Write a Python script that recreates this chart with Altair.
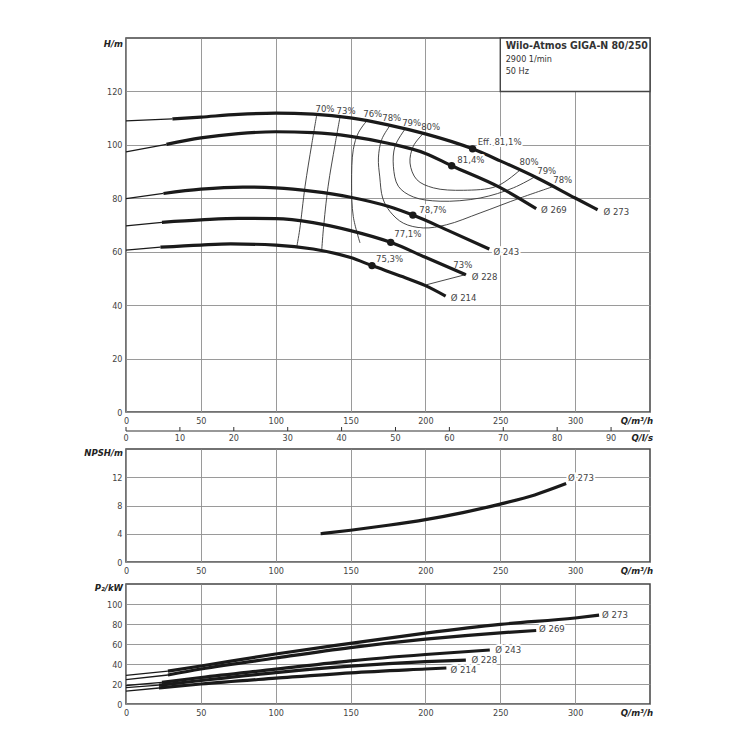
import altair as alt
import pandas as pd

FONT = "DejaVu Sans Condensed, DejaVu Sans, sans-serif"
INK = "#1a1a1a"
TXT = "#444444"
GRID = "#8f8f8f"

W = 524
H_MAIN = 374
H_NPSH = 113
H_POW = 120

# ---------------- data ----------------
X_TICKS = [0, 50, 100, 150, 200, 250, 300]
LS_TICKS = [0, 10, 20, 30, 40, 50, 60, 70, 80, 90]
H_TICKS = [0, 20, 40, 60, 80, 100, 120]
NPSH_TICKS = [0, 4, 8, 12]
P_TICKS = [0, 20, 40, 60, 80, 100]

DIAMS = ["273", "269", "243", "228", "214"]

# head curves H(Q)
HQ = {
    "273": [0, 31, 50, 75, 100, 125, 150, 175, 200, 231.5, 250, 275, 300, 315],
    "269": [0, 27, 50, 75, 100, 125, 150, 175, 200, 217.5, 250, 274],
    "243": [0, 25, 50, 78, 100, 125, 150, 175, 191.6, 215, 242.7],
    "228": [0, 24, 50, 75, 100, 125, 150, 176.8, 200, 227],
    "214": [0, 23, 50, 70, 100, 125, 150, 164.3, 185, 200, 213.5],
}
HH = {
    "273": [109.0, 109.7, 110.4, 111.4, 111.9, 111.5, 110.1, 107.5, 104.1, 98.5, 94.0, 87.5, 80.1, 75.7],
    "269": [97.4, 100.2, 102.6, 104.2, 104.9, 104.6, 103.2, 100.6, 96.8, 92.2, 84.0, 76.1],
    "243": [79.9, 81.8, 83.4, 84.2, 83.9, 82.6, 80.4, 77.0, 73.7, 68.0, 61.0],
    "228": [69.7, 71.0, 71.9, 72.5, 72.4, 70.9, 67.9, 63.5, 57.9, 51.4],
    "214": [60.6, 61.7, 62.5, 62.9, 62.5, 61.0, 57.8, 54.8, 50.6, 47.3, 43.4],
}
H_START = {"273": 31, "269": 27, "243": 25, "228": 24, "214": 23}

# best efficiency points
BEP_Q = [231.5, 217.5, 191.6, 176.8, 164.3]
BEP_H = [98.5, 92.2, 73.7, 63.5, 54.8]
BEP_TXT = ["Eff. 81,1%", "81,4%", "78,7%", "77,1%", "75,3%"]
BEP_TQ = [234.9, 221.3, 195.9, 179.2, 167.0]
BEP_TH = [101.1, 94.5, 75.7, 66.6, 57.3]

# diameter labels on head chart
DL_Q = [318.9, 277.2, 245.4, 230.9, 216.9]
DL_H = [74.9, 75.5, 60.0, 50.7, 42.6]

# iso-efficiency lines
ISO = {
    "70": ([127.4, 124.0, 119.6, 116.0, 114.0], [111.2, 100.0, 84.5, 68.2, 61.6]),
    "73": ([143.0, 139.6, 135.0, 131.8, 130.7], [110.6, 100.0, 84.5, 68.2, 60.3]),
    "76": ([160.8, 155.2, 151.8, 150.7, 151.8, 156.3], [109.0, 104.5, 98.2, 85.7, 73.2, 63.3]),
    "78": ([176.4, 170.8, 168.6, 169.5, 171.5, 176.4, 185.2, 198.6, 214.2, 236.5, 263.2, 285.4],
           [107.3, 102.0, 95.1, 88.0, 80.0, 75.0, 70.7, 68.9, 70.1, 74.5, 80.1, 84.4]),
    "79": ([186.4, 179.7, 178.6, 181.9, 191.9, 209.8, 236.5, 258.7, 273.0],
           [105.9, 99.5, 92.0, 84.5, 80.5, 78.9, 80.1, 83.9, 88.0]),
    "80": ([198.6, 191.9, 189.7, 194.2, 205.3, 225.3, 247.6, 263.2],
           [104.3, 99.5, 93.2, 87.0, 83.9, 83.0, 84.5, 90.6]),
    "73b": ([227.3, 200.5], [51.5, 47.6]),
}
ISO_LBL = ["70%", "73%", "76%", "78%", "79%", "80%", "80%", "79%", "78%", "73%"]
ISO_LQ = [132.9, 147.0, 164.8, 177.5, 190.8, 203.5, 269.2, 281.0, 291.7, 225.0]
ISO_LH = [113.5, 112.6, 111.4, 110.1, 108.2, 106.8, 93.5, 90.1, 86.7, 55.1]

# NPSH curve
N_Q = [130, 150, 175, 200, 225, 250, 273, 294]
N_V = [4.0, 4.5, 5.2, 6.0, 7.0, 8.2, 9.5, 11.1]
N_LBL = ("Ø 273", 295.3, 11.9)

# power curves P2(Q)
PQ = {
    "273": [0, 28, 50, 100, 150, 200, 250, 300, 316],
    "269": [0, 28, 50, 100, 150, 200, 250, 274],
    "243": [0, 24, 50, 100, 150, 200, 243],
    "228": [0, 22, 50, 100, 150, 200, 227],
    "214": [0, 22, 50, 100, 150, 200, 214],
}
PP = {
    "273": [28.6, 32.8, 38.0, 50.0, 60.6, 70.8, 79.6, 86.0, 88.8],
    "269": [24.4, 29.0, 35.0, 46.0, 56.4, 64.8, 71.2, 73.5],
    "243": [18.5, 21.6, 26.5, 34.8, 43.2, 49.5, 54.0],
    "228": [16.4, 18.8, 23.5, 31.4, 37.8, 42.3, 43.9],
    "214": [12.9, 16.0, 20.0, 25.8, 31.2, 35.0, 36.0],
}
P_START = {"273": 28, "269": 28, "243": 24, "228": 22, "214": 22}
PL_Q = [318.0, 275.9, 246.7, 230.7, 216.8]
PL_P = [89.5, 74.6, 54.0, 44.3, 33.8]

TITLE = ["Wilo-Atmos GIGA-N 80/250", "2900 1/min", "50 Hz"]

# ---------------- helpers ----------------
xs = alt.Scale(domain=[0, 350], nice=False, zero=False)


def X(field="Q"):
    return alt.X(f"{field}:Q", scale=xs,
                 axis=alt.Axis(values=X_TICKS, title=None, labelFlush=False))


def Y(dom, ticks, field="V"):
    return alt.Y(f"{field}:Q", scale=alt.Scale(domain=dom, nice=False, zero=False),
                 axis=alt.Axis(values=ticks, title=None, labelFlush=False))


def split(qd, vd, start):
    thin, thick = [], []
    for d in DIAMS:
        for i, (q, v) in enumerate(zip(qd[d], vd[d])):
            if q <= start[d]:
                thin.append({"d": d, "Q": q, "V": v, "i": i})
            if q >= start[d]:
                thick.append({"d": d, "Q": q, "V": v, "i": i})
    return pd.DataFrame(thin), pd.DataFrame(thick)


def labels_layer(df, dom, ticks, align="left", size=9.5):
    halo = alt.Chart(df).mark_text(align=align, baseline="middle", font=FONT, fontSize=size,
                                   stroke="white", strokeWidth=4, strokeJoin="round",
                                   color="white").encode(x=X(), y=Y(dom, ticks), text="t:N")
    txt = alt.Chart(df).mark_text(align=align, baseline="middle", font=FONT, fontSize=size,
                                  color=TXT).encode(x=X(), y=Y(dom, ticks), text="t:N")
    return [halo, txt]


def corner_text(text, x, y, align="right", size=9.5):
    return alt.Chart(pd.DataFrame({"a": [0]})).mark_text(
        align=align, baseline="middle", font=FONT, fontSize=size, color="#222",
        fontStyle="italic", fontWeight="bold", text=text
    ).encode(x=alt.value(x), y=alt.value(y))


# ---------------- main (head) chart ----------------
HDOM = [0, 140]
thin_h, thick_h = split(HQ, HH, H_START)

box_df = pd.DataFrame({"Q": [250], "Q2": [350], "V": [120], "V2": [140]})
box = alt.Chart(box_df).mark_rect(fill="white", stroke="#444", strokeWidth=1.4).encode(
    x=X(), x2="Q2:Q", y=Y(HDOM, H_TICKS), y2="V2:Q")

title_df = pd.DataFrame({"Q": [253.6, 253.6, 253.6], "V": [137.0, 132.2, 127.7], "t": TITLE})
title_bold = alt.Chart(title_df.iloc[[0]]).mark_text(
    align="left", baseline="middle", font=FONT, fontSize=10.5, fontWeight="bold", color="#333"
).encode(x=X(), y=Y(HDOM, H_TICKS), text="t:N")
title_sub = alt.Chart(title_df.iloc[1:]).mark_text(
    align="left", baseline="middle", font=FONT, fontSize=9, color="#333"
).encode(x=X(), y=Y(HDOM, H_TICKS), text="t:N")

h_thin = alt.Chart(thin_h).mark_line(color=INK, strokeWidth=1.3, interpolate="monotone").encode(
    x=X(), y=Y(HDOM, H_TICKS), detail="d:N", order="i:Q")
h_thick = alt.Chart(thick_h).mark_line(color=INK, strokeWidth=3.2, interpolate="monotone").encode(
    x=X(), y=Y(HDOM, H_TICKS), detail="d:N", order="i:Q")

iso_rows = []
for k, (qs, hs) in ISO.items():
    for i, (q, h) in enumerate(zip(qs, hs)):
        iso_rows.append({"e": k, "Q": q, "V": h, "i": i})
iso = alt.Chart(pd.DataFrame(iso_rows)).mark_line(
    color="#333", strokeWidth=0.9, interpolate="catmull-rom").encode(
    x=X(), y=Y(HDOM, H_TICKS), detail="e:N", order="i:Q")

iso_lbl = alt.Chart(pd.DataFrame({"Q": ISO_LQ, "V": ISO_LH, "t": ISO_LBL})).mark_text(
    align="center", baseline="middle", font=FONT, fontSize=9.5, color=TXT).encode(
    x=X(), y=Y(HDOM, H_TICKS), text="t:N")

dots = alt.Chart(pd.DataFrame({"Q": BEP_Q, "V": BEP_H})).mark_circle(
    size=55, color=INK, opacity=1).encode(x=X(), y=Y(HDOM, H_TICKS))

bep_lbl = labels_layer(pd.DataFrame({"Q": BEP_TQ, "V": BEP_TH, "t": BEP_TXT}), HDOM, H_TICKS)
d_lbl = labels_layer(pd.DataFrame({"Q": DL_Q, "V": DL_H, "t": ["Ø " + d for d in DIAMS]}),
                     HDOM, H_TICKS)

# second x axis in l/s drawn through the same m3/h scale
ls_df = pd.DataFrame({"Q": [v * 3.6 for v in LS_TICKS], "t": [str(v) for v in LS_TICKS]})
ls_domain = alt.Chart(pd.DataFrame({"a": [0]})).mark_rule(color="#333", strokeWidth=1.2).encode(
    x=alt.value(0), x2=alt.value(W), y=alt.value(H_MAIN + 19))
ls_ticks = alt.Chart(ls_df).mark_rule(color="#333", strokeWidth=1).encode(
    x=X(), y=alt.value(H_MAIN + 15), y2=alt.value(H_MAIN + 19))
ls_text = alt.Chart(ls_df).mark_text(font=FONT, fontSize=9, color=TXT, baseline="middle").encode(
    x=X(), y=alt.value(H_MAIN + 26), text="t:N")

main = alt.layer(
    box, title_bold, title_sub, iso, h_thin, h_thick, dots, iso_lbl, *bep_lbl, *d_lbl,
    ls_domain, ls_ticks, ls_text,
    corner_text("H/m", -3, 6),
    corner_text("Q/m³/h", W + 3, H_MAIN + 9),
    corner_text("Q/l/s", W + 3, H_MAIN + 26),
).properties(width=W, height=H_MAIN)

# ---------------- NPSH chart ----------------
NDOM = [0, 16]
n_line = alt.Chart(pd.DataFrame({"Q": N_Q, "V": N_V})).mark_line(
    color=INK, strokeWidth=3.2, interpolate="monotone").encode(x=X(), y=Y(NDOM, NPSH_TICKS))
n_lbl = labels_layer(pd.DataFrame({"Q": [N_LBL[1]], "V": [N_LBL[2]], "t": [N_LBL[0]]}),
                     NDOM, NPSH_TICKS)
npsh = alt.layer(
    n_line, *n_lbl,
    corner_text("NPSH/m", -3, 4),
    corner_text("Q/m³/h", W + 3, H_NPSH + 9),
).properties(width=W, height=H_NPSH)

# ---------------- power chart ----------------
PDOM = [0, 120]
thin_p, thick_p = split(PQ, PP, P_START)
p_thin = alt.Chart(thin_p).mark_line(color=INK, strokeWidth=1.3, interpolate="monotone").encode(
    x=X(), y=Y(PDOM, P_TICKS), detail="d:N", order="i:Q")
p_thick = alt.Chart(thick_p).mark_line(color=INK, strokeWidth=3.2, interpolate="monotone").encode(
    x=X(), y=Y(PDOM, P_TICKS), detail="d:N", order="i:Q")
p_lbl = labels_layer(pd.DataFrame({"Q": PL_Q, "V": PL_P, "t": ["Ø " + d for d in DIAMS]}),
                     PDOM, P_TICKS)
power = alt.layer(
    p_thin, p_thick, *p_lbl,
    corner_text("P₂/kW", -3, 4),
    corner_text("Q/m³/h", W + 3, H_POW + 9),
).properties(width=W, height=H_POW)

upper = alt.vconcat(main, npsh, spacing=3)
chart = alt.vconcat(upper, power, spacing=5).properties(
    padding={"left": 75, "top": 28, "right": 5, "bottom": 5}
).configure_view(
    stroke="#444", strokeWidth=1.5
).configure_axis(
    domain=False, ticks=False, grid=True, gridColor=GRID, gridWidth=0.9,
    labelFont=FONT, labelFontSize=9, labelColor=TXT, labelPadding=4
)

chart.save("out.html", embed_options={"renderer": "svg", "actions": False})
